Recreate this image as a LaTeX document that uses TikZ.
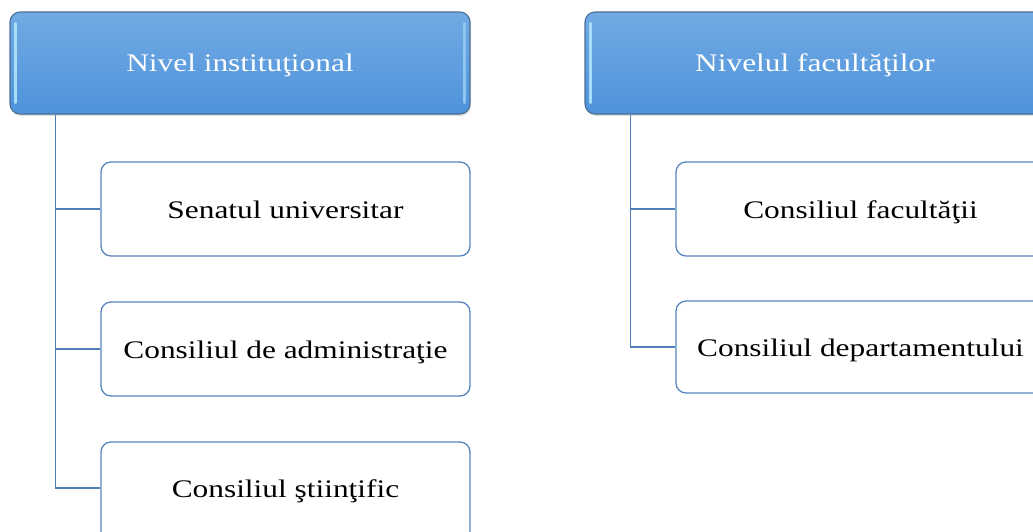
\documentclass[tikz,border=0pt]{standalone}
\usepackage{fontspec}
\setmainfont[FakeStretch=1.24]{Liberation Serif}
\usetikzlibrary{shadows}
\definecolor{hdrtop}{HTML}{72AAE4}
\definecolor{hdrbot}{HTML}{4E93DA}
\definecolor{hdrline}{HTML}{4A6F96}
\definecolor{boxline}{HTML}{5585BE}
\definecolor{connline}{HTML}{4F7FB8}
\definecolor{glint}{HTML}{A8DDF8}
\definecolor{glintr}{HTML}{8EC6F0}
\tikzset{
  hdr/.style={rectangle, rounded corners=10pt, top color=hdrtop, bottom color=hdrbot,
    draw=hdrline, line width=1.1pt, minimum width=460pt, minimum height=102pt,
    text=white, font=\fontsize{25.3}{30}\selectfont, inner sep=0pt,
    text height=21pt, text depth=5pt,
    drop shadow={shadow xshift=1pt, shadow yshift=-2pt, opacity=0.25}},
  child/.style={rectangle, rounded corners=10pt, fill=white, draw=boxline,
    line width=1.3pt, minimum width=369pt, minimum height=94pt,
    text=black, font=\fontsize{25.3}{30}\selectfont, inner sep=0pt,
    text height=22pt, text depth=3pt},
  conn/.style={draw=connline, line width=1.5pt},
  glintline/.style={draw=glint, line width=3pt, line cap=round},
  glintrline/.style={draw=glintr, line width=3pt, line cap=round}
}
\begin{document}
\begin{tikzpicture}[x=1pt, y=-1pt]
\useasboundingbox (0,0) rectangle (1033,531);
\clip (0,0) rectangle (1033,531);
% headers
\node[hdr] (h1) at (240,63) {Nivel instituţional};
\node[hdr] (h2) at (815,63) {Nivelul facultăţilor};
\draw[glintline] ([xshift=6pt,yshift=-12pt]h1.north west) -- ([xshift=6pt,yshift=12pt]h1.south west);
\draw[glintrline] ([xshift=-6pt,yshift=-12pt]h1.north east) -- ([xshift=-6pt,yshift=12pt]h1.south east);
\draw[glintline] ([xshift=6pt,yshift=-12pt]h2.north west) -- ([xshift=6pt,yshift=12pt]h2.south west);
% children
\node[child] (a1) at (285.5,209) {Senatul universitar};
\node[child] (a2) at (285.5,349) {Consiliul de administraţie};
\node[child, minimum height=110pt, text height=21pt, text depth=20pt] (a3) at (285.5,497) {Consiliul ştiinţific};
\node[child] (b1) at (860.5,209) {Consiliul facultăţii};
\node[child, minimum height=92pt] (b2) at (860.5,347) {Consiliul departamentului};
% connectors
\coordinate (p1) at ([xshift=46pt]h1.south west);
\coordinate (p2) at ([xshift=46pt]h2.south west);
\draw[conn] (p1) |- ([yshift=9pt]a3.west);
\draw[conn] (p1 |- a1.west) -- (a1.west);
\draw[conn] (p1 |- a2.west) -- (a2.west);
\draw[conn] (p2) |- (b2.west);
\draw[conn] (p2 |- b1.west) -- (b1.west);
\end{tikzpicture}
\end{document}
